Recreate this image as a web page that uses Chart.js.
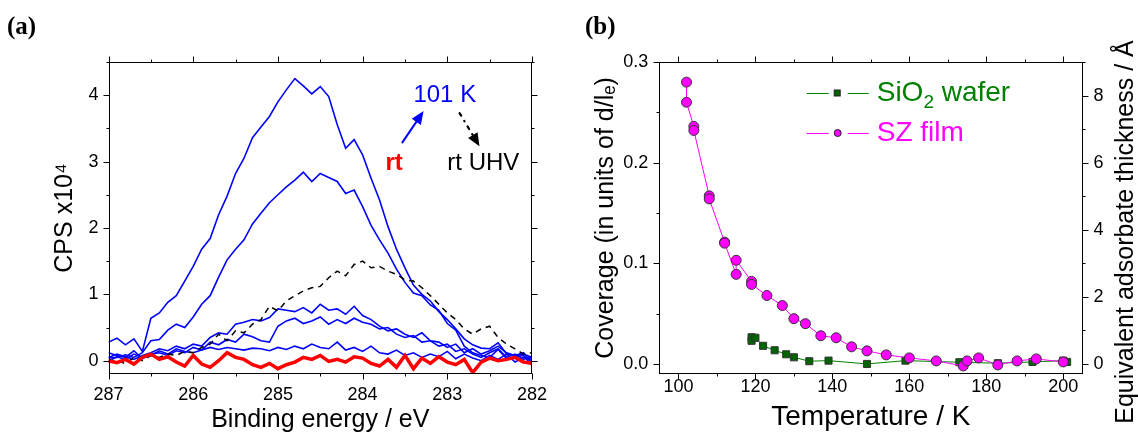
<!DOCTYPE html>
<html>
<head>
<meta charset="utf-8">
<script src="https://cdn.jsdelivr.net/npm/chart.js@4.4.1/dist/chart.umd.min.js"></script>
<style>
  body { margin: 0; background: #fff; }
  #wrap { position: relative; width: 1138px; height: 440px; overflow: hidden; }
  canvas { position: absolute; top: 0; }
  #chartA { left: 0; }
  #chartB { left: 569px; }
  .panel { position: absolute; top: 12px; font: bold 25px "Liberation Serif", "Times New Roman", serif; color: #000; }
</style>
</head>
<body>
<div id="wrap">
  <canvas id="chartA" width="569" height="440"></canvas>
  <canvas id="chartB" width="569" height="440"></canvas>
  <div class="panel" style="left:7px">(a)</div>
  <div class="panel" style="left:585px">(b)</div>
</div>
<script>
// ---- panel (a): C 1s spectra ----
const energy = [
  287.0, 286.9, 286.8, 286.7, 286.6, 286.5, 286.4, 286.3, 286.2, 286.1,
  286.0, 285.9, 285.8, 285.7, 285.6, 285.5, 285.4, 285.3, 285.2, 285.1,
  285.0, 284.9, 284.8, 284.7, 284.6, 284.5, 284.4, 284.3, 284.2, 284.1,
  284.0, 283.9, 283.8, 283.7, 283.6, 283.5, 283.4, 283.3, 283.2, 283.1,
  283.0, 282.9, 282.8, 282.7, 282.6, 282.5, 282.4, 282.3, 282.2, 282.1,
  282.0
];
const spec101K = [
  0.28, 0.34, 0.24, 0.33, 0.14, 0.64, 0.72, 0.88, 0.98, 1.20,
  1.42, 1.68, 1.84, 2.20, 2.48, 2.82, 3.05, 3.36, 3.52, 3.68,
  3.90, 4.08, 4.25, 4.14, 4.02, 4.13, 3.98, 3.56, 3.20, 3.33,
  3.10, 2.75, 2.42, 2.02, 1.68, 1.40, 1.14, 1.00, 0.90, 0.74,
  0.62, 0.48, 0.33, 0.24, 0.19, 0.18, 0.27, 0.10, 0.08, 0.12,
  -0.04
];
const specB = [
  0.04, 0.05, 0.09, 0.05, 0.12, 0.30, 0.32, 0.46, 0.55, 0.50,
  0.66, 0.85, 0.98, 1.26, 1.52, 1.68, 1.82, 2.06, 2.22, 2.38,
  2.50, 2.62, 2.72, 2.84, 2.70, 2.82, 2.76, 2.70, 2.52, 2.57,
  2.32, 2.04, 1.82, 1.62, 1.38, 1.18, 1.02, 0.98, 0.84, 0.76,
  0.56, 0.46, 0.22, 0.12, 0.08, 0.05, 0.17, 0.03, 0.06, 0.08,
  -0.07
];
const specC = [
  0.05, 0.10, 0.06, 0.02, 0.08, 0.12, 0.18, 0.15, 0.22, 0.18,
  0.25, 0.22, 0.35, 0.42, 0.40, 0.55, 0.58, 0.62, 0.60, 0.65,
  0.78, 0.76, 0.74, 0.80, 0.72, 0.85, 0.76, 0.78, 0.70, 0.82,
  0.68, 0.62, 0.52, 0.45, 0.48, 0.40, 0.35, 0.42, 0.30, 0.28,
  0.20, 0.25, 0.12, 0.18, 0.10, 0.15, 0.22, 0.12, 0.08, 0.10,
  0.05
];
const specD = [
  0.12, 0.08, 0.05, 0.15, 0.03, 0.10, 0.12, 0.08, 0.15, 0.12,
  0.20, 0.16, 0.28, 0.24, 0.32, 0.28, 0.40, 0.36, 0.30, 0.28,
  0.52, 0.60, 0.64, 0.56, 0.60, 0.66, 0.55, 0.62, 0.56, 0.64,
  0.58, 0.55, 0.48, 0.50, 0.40, 0.35, 0.38, 0.28, 0.30, 0.22,
  0.25, 0.14, 0.18, 0.10, 0.05, 0.12, 0.18, 0.05, 0.10, 0.02,
  0.06
];
const specE = [
  0.00, 0.06, 0.02, 0.10, 0.05, 0.08, 0.15, 0.10, 0.18, 0.14,
  0.12, 0.16, 0.20, 0.17, 0.20, 0.18, 0.16, 0.19, 0.18, 0.15,
  0.20, 0.17, 0.22, 0.18, 0.25, 0.20, 0.18, 0.28, 0.16, 0.20,
  0.14, 0.22, 0.12, 0.10, 0.16, 0.08, 0.12, 0.05, 0.10, 0.06,
  0.14, 0.03, 0.10, 0.04, 0.00, 0.08, 0.02, 0.10, -0.02, 0.05,
  0.02
];
const specRtUhv = [
  -0.02, 0.02, -0.05, 0.05, 0.00, 0.08, 0.05, 0.10, 0.08, 0.14,
  0.12, 0.20, 0.25, 0.40, 0.30, 0.45, 0.42, 0.55, 0.62, 0.82,
  0.75, 0.90, 0.98, 1.05, 1.10, 1.12, 1.25, 1.35, 1.28, 1.45,
  1.50, 1.40, 1.42, 1.35, 1.30, 1.22, 1.20, 1.10, 0.98, 0.85,
  0.72, 0.62, 0.48, 0.40, 0.48, 0.52, 0.35, 0.25, 0.18, 0.10,
  0.12
];
const specRt = [
  0.00, -0.03, 0.02, -0.05, 0.05, 0.10, 0.02, 0.06, -0.02, -0.08,
  0.08, -0.05, -0.10, 0.00, 0.12, 0.05, 0.02, -0.06, -0.10, -0.04,
  -0.12, -0.06, -0.02, 0.05, 0.02, 0.08, -0.01, 0.02, -0.02, 0.06,
  0.04, -0.04, -0.08, 0.02, -0.10, 0.08, -0.12, 0.04, -0.04, 0.06,
  -0.02, -0.06, 0.02, -0.18, -0.02, 0.04, 0.00, 0.02, 0.05, -0.02,
  -0.04
];
const ticksEnergy = [287, 286, 285, 284, 283, 282];
const ticksCps = [0, 1, 2, 3, 4];

// ---- panel (b): coverage vs temperature ----
const tempSZ = [102.1, 102.1, 104, 104, 108, 108, 112, 112, 115, 115, 119, 119, 123, 127, 130,
  133, 137, 141, 145, 149, 154, 160, 167, 174, 175, 178, 183, 188, 193, 200];
const covSZ = [0.280, 0.260, 0.236, 0.232, 0.167, 0.164, 0.121, 0.120, 0.089, 0.103, 0.082, 0.079, 0.068, 0.058, 0.045,
  0.040, 0.028, 0.026, 0.017, 0.013, 0.009, 0.006, 0.003, -0.002, 0.003, 0.006, -0.001, 0.003, 0.005, 0.002];
const tempSiO2 = [119, 119, 120, 122, 125, 128, 130, 134, 139, 149, 159, 173, 183, 192, 200, 201];
const covSiO2 = [0.0265, 0.023, 0.026, 0.018, 0.0136, 0.0096, 0.0066, 0.0027, 0.0033, 0.0, 0.0033, 0.0017, 0.0007, 0.002, 0.0033, 0.002];
const ticksTemp = [100, 120, 140, 160, 180, 200];
const ticksCov = [0, 0.1, 0.2, 0.3];
const ticksThick = [0, 2, 4, 6, 8];

const FONT = "'Liberation Sans', Arial, sans-serif";
const BLUE = '#0000ff';

function series(xs, ys) {
  return xs.map((x, i) => ({ x: x, y: ys[i] }));
}

function fixedTicks(values) {
  return function (scale) {
    scale.ticks = values.map(v => ({ value: v }));
  };
}

// frame + outward major/minor tick marks, placed with the chart's scales
function frameTicks(specs) {
  return {
    id: 'frameTicks',
    afterDraw(chart) {
      const ctx = chart.ctx, a = chart.chartArea;
      const L = Math.round(a.left) + 0.5, R = Math.round(a.right) - 0.5;
      const T = Math.round(a.top) + 0.5, B = Math.round(a.bottom) - 0.5;
      ctx.save();
      ctx.strokeStyle = '#000';
      ctx.lineWidth = 1;
      ctx.strokeRect(L, T, R - L, B - T);
      specs.forEach(sp => {
        const s = chart.scales[sp.id];
        const n0 = Math.ceil(s.min / sp.minor - 1e-6);
        const n1 = Math.floor(s.max / sp.minor + 1e-6);
        ctx.beginPath();
        for (let n = n0; n <= n1; n++) {
          const v = n * sp.minor;
          const r = v / sp.major;
          const len = Math.abs(r - Math.round(r)) < 1e-6 ? 6 : 3;
          const p = Math.round(s.getPixelForValue(v)) + 0.5;
          sp.sides.forEach(side => {
            if (side === 'bottom') { ctx.moveTo(p, B); ctx.lineTo(p, B + len); }
            if (side === 'top') { ctx.moveTo(p, T); ctx.lineTo(p, T - len); }
            if (side === 'left') { ctx.moveTo(L, p); ctx.lineTo(L - len, p); }
            if (side === 'right') { ctx.moveTo(R, p); ctx.lineTo(R + len, p); }
          });
        }
        ctx.stroke();
      });
      ctx.restore();
    }
  };
}

function arrow(ctx, x0, y0, x1, y1, color, dash, width) {
  const ang = Math.atan2(y1 - y0, x1 - x0);
  const head = 13, half = 5.5;
  const bx = x1 - head * Math.cos(ang), by = y1 - head * Math.sin(ang);
  ctx.save();
  ctx.strokeStyle = color;
  ctx.fillStyle = color;
  ctx.lineWidth = width;
  ctx.lineCap = 'round';
  ctx.setLineDash(dash);
  ctx.beginPath();
  ctx.moveTo(x0, y0);
  ctx.lineTo(bx, by);
  ctx.stroke();
  ctx.setLineDash([]);
  ctx.beginPath();
  ctx.moveTo(x1, y1);
  ctx.lineTo(bx + half * Math.sin(ang), by - half * Math.cos(ang));
  ctx.lineTo(bx - half * Math.sin(ang), by + half * Math.cos(ang));
  ctx.closePath();
  ctx.fill();
  ctx.restore();
}

// labels and arrows in panel (a), anchored in data units
const notesA = {
  id: 'notesA',
  afterDatasetsDraw(chart) {
    const ctx = chart.ctx, sx = chart.scales.x, sy = chart.scales.y;
    const px = e => sx.getPixelForValue(e), py = v => sy.getPixelForValue(v);
    ctx.save();
    ctx.textBaseline = 'middle';
    ctx.textAlign = 'left';
    ctx.font = '24px ' + FONT;
    ctx.fillStyle = BLUE;
    ctx.fillText('101 K', px(283.40), py(4.0));
    ctx.fillStyle = '#000';
    ctx.fillText('rt UHV', px(283.0), py(2.98));
    ctx.font = 'bold 24px ' + FONT;
    ctx.fillStyle = '#ff0000';
    ctx.fillText('rt', px(283.73), py(2.98));
    ctx.restore();
    arrow(ctx, px(283.53), py(3.29), px(283.28), py(3.76), BLUE, [], 2);
    arrow(ctx, px(282.855), py(3.73), px(282.62), py(3.23), '#000', [3, 6, 0.5, 6], 2.2);
  }
};

new Chart(document.getElementById('chartA'), {
  type: 'line',
  data: {
    datasets: [
      { data: series(energy, specRt), borderColor: '#ff0000', borderWidth: 3.5 },
      { data: series(energy, specRtUhv), borderColor: '#000', borderWidth: 1.5, borderDash: [6, 5] },
      { data: series(energy, spec101K), borderColor: BLUE, borderWidth: 1.6 },
      { data: series(energy, specB), borderColor: BLUE, borderWidth: 1.6 },
      { data: series(energy, specC), borderColor: BLUE, borderWidth: 1.6 },
      { data: series(energy, specD), borderColor: BLUE, borderWidth: 1.6 },
      { data: series(energy, specE), borderColor: BLUE, borderWidth: 1.6 }
    ]
  },
  options: {
    responsive: false,
    animation: false,
    layout: { padding: { left: 0, top: 62, right: 37, bottom: 0 } },
    elements: { point: { radius: 0 }, line: { tension: 0, fill: false } },
    plugins: { legend: { display: false }, tooltip: { enabled: false } },
    scales: {
      x: {
        type: 'linear', reverse: true, min: 282, max: 287,
        grid: { display: false, drawTicks: false }, border: { display: false },
        ticks: { padding: 10, color: '#000', font: { family: FONT, size: 18 }, maxRotation: 0, autoSkip: false },
        afterBuildTicks: fixedTicks(ticksEnergy),
        title: { display: true, text: 'Binding energy / eV', color: '#000', font: { family: FONT, size: 25 }, padding: { top: 0, bottom: 5 } },
        afterFit: s => { s.height = 66; }
      },
      y: {
        type: 'linear', min: -0.2, max: 4.5,
        grid: { display: false, drawTicks: false }, border: { display: false },
        ticks: { padding: 10, color: '#000', font: { family: FONT, size: 18 } },
        afterBuildTicks: fixedTicks(ticksCps),
        title: { display: true, text: 'CPS x10\u2074', color: '#000', font: { family: FONT, size: 25 }, padding: { top: 50, bottom: 0 } },
        afterFit: s => { s.width = 108.5; }
      }
    }
  },
  plugins: [
    frameTicks([
      { id: 'x', major: 1, minor: 0.5, sides: ['bottom', 'top'] },
      { id: 'y', major: 1, minor: 0.5, sides: ['left', 'right'] }
    ]),
    notesA
  ]
});

// legend and right-hand title for panel (b)
const GREEN = '#008000';
const MAGENTA = '#ff00ff';
const notesB = {
  id: 'notesB',
  afterDraw(chart) {
    const ctx = chart.ctx, a = chart.chartArea;
    const x0 = a.left + 147.5;
    ctx.save();
    ctx.textBaseline = 'middle';
    ctx.textAlign = 'left';
    const rows = [
      { y: a.top + 31, color: GREEN },
      { y: a.top + 71, color: MAGENTA }
    ];
    rows.forEach((r, i) => {
      ctx.strokeStyle = r.color;
      ctx.lineWidth = 1;
      ctx.beginPath();
      ctx.moveTo(x0, r.y + 0.5); ctx.lineTo(x0 + 22, r.y + 0.5);
      ctx.moveTo(x0 + 41, r.y + 0.5); ctx.lineTo(x0 + 62, r.y + 0.5);
      ctx.stroke();
      ctx.strokeStyle = '#222';
      if (i === 0) {
        ctx.fillStyle = '#006400';
        ctx.fillRect(x0 + 27.5, r.y - 3, 6, 6);
        ctx.strokeRect(x0 + 27.5, r.y - 3, 6, 6);
      } else {
        ctx.fillStyle = MAGENTA;
        ctx.beginPath();
        ctx.arc(x0 + 31, r.y, 3.5, 0, Math.PI * 2);
        ctx.fill();
        ctx.stroke();
      }
    });
    const tx = x0 + 70;
    ctx.font = '28px ' + FONT;
    ctx.fillStyle = GREEN;
    ctx.fillText('SiO', tx, rows[0].y);
    let w = ctx.measureText('SiO').width;
    ctx.font = '19px ' + FONT;
    ctx.fillText('2', tx + w, rows[0].y + 10);
    w += ctx.measureText('2').width;
    ctx.font = '28px ' + FONT;
    ctx.fillText(' wafer', tx + w, rows[0].y);
    ctx.fillStyle = MAGENTA;
    ctx.fillText('SZ film', tx, rows[1].y);

    // right axis title reads bottom-to-top
    const s1 = chart.scales.y1;
    ctx.translate(s1.right - 12, (a.top + a.bottom) / 2 + 14);
    ctx.rotate(-Math.PI / 2);
    ctx.textAlign = 'center';
    ctx.fillStyle = '#000';
    ctx.font = '25px ' + FONT;
    ctx.fillText('Equivalent adsorbate thickness / \u00c5', 0, 0);
    ctx.restore();
  }
};

new Chart(document.getElementById('chartB'), {
  type: 'line',
  data: {
    datasets: [
      {
        data: series(tempSZ, covSZ), borderColor: MAGENTA, borderWidth: 1,
        pointStyle: 'circle', pointRadius: 5, pointBackgroundColor: MAGENTA,
        pointBorderColor: '#333', pointBorderWidth: 1
      },
      {
        data: series(tempSiO2, covSiO2), borderColor: GREEN, borderWidth: 1,
        pointStyle: 'rect', pointRadius: 5, pointBackgroundColor: '#006400',
        pointBorderColor: '#333', pointBorderWidth: 1
      }
    ]
  },
  options: {
    responsive: false,
    animation: false,
    layout: { padding: { left: 0, top: 62, right: 0, bottom: 0 } },
    elements: { line: { tension: 0, fill: false } },
    plugins: { legend: { display: false }, tooltip: { enabled: false } },
    scales: {
      x: {
        type: 'linear', min: 95, max: 205,
        grid: { display: false, drawTicks: false }, border: { display: false },
        ticks: { padding: 2, color: '#000', font: { family: FONT, size: 18 }, maxRotation: 0, autoSkip: false },
        afterBuildTicks: fixedTicks(ticksTemp),
        title: { display: true, text: 'Temperature / K', color: '#000', font: { family: FONT, size: 28 }, padding: { top: 0, bottom: 6 } },
        afterFit: s => { s.height = 66; }
      },
      y: {
        type: 'linear', position: 'left', min: -0.01, max: 0.3,
        grid: { display: false, drawTicks: false }, border: { display: false },
        ticks: { padding: 11, color: '#000', font: { family: FONT, size: 18 }, callback: v => v.toFixed(1) },
        afterBuildTicks: fixedTicks(ticksCov),
        title: { display: true, text: 'Coverage (in units of d/l\u2091)', color: '#000', font: { family: FONT, size: 25 }, padding: { top: 22, bottom: 0 } },
        afterFit: s => { s.width = 90.2; }
      },
      y1: {
        type: 'linear', position: 'right', min: -0.3, max: 9,
        grid: { display: false, drawTicks: false }, border: { display: false },
        ticks: { padding: 11, color: '#000', font: { family: FONT, size: 18 } },
        afterBuildTicks: fixedTicks(ticksThick),
        afterFit: s => { s.width = 55.5; }
      }
    }
  },
  plugins: [
    frameTicks([
      { id: 'x', major: 20, minor: 10, sides: ['bottom', 'top'] },
      { id: 'y', major: 0.1, minor: 0.05, sides: ['left'] },
      { id: 'y1', major: 2, minor: 1, sides: ['right'] }
    ]),
    notesB
  ]
});
</script>
</body>
</html>
